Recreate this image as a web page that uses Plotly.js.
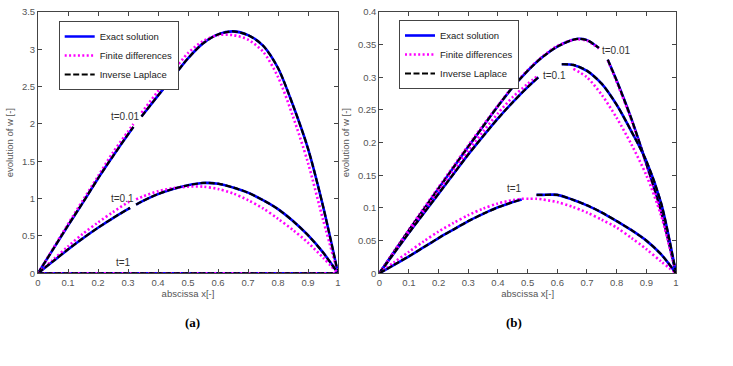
<!DOCTYPE html>
<html>
<head>
<meta charset="utf-8">
<script src="https://cdn.plot.ly/plotly-3.0.1.min.js"></script>
<style>html,body{margin:0;padding:0;background:#fff;}#chart{width:733px;height:366px;}</style>
</head>
<body>
<div id="chart"></div>
<script>
// ---------- Panel (a) data ----------
const xA001 = [0,0.05,0.1,0.15,0.2,0.25,0.3,0.318,0.33,0.345,0.4,0.45,0.5,0.55,0.6,0.65,0.7,0.75,0.8,0.85,0.9,0.95,1];
const exA001 = [0,0.32,0.64,0.95,1.27,1.57,1.86,1.96,null,2.10,2.38,2.63,2.88,3.08,3.20,3.24,3.19,3.05,2.75,2.25,1.67,0.90,0];
const fdA001 = [0,0.33,0.66,0.98,1.30,1.62,1.90,2.00,null,2.15,2.44,2.70,2.95,3.11,3.19,3.19,3.13,2.97,2.63,2.10,1.48,0.72,0];
const ilA001 = [0,0.32,0.64,0.95,1.27,1.57,1.86,1.96,null,2.10,2.38,2.63,2.88,3.08,3.20,3.24,3.19,3.05,2.75,2.25,1.67,0.90,0];

const xA01 = [0,0.05,0.1,0.15,0.2,0.25,0.3,0.307,0.317,0.327,0.35,0.4,0.45,0.5,0.55,0.6,0.65,0.7,0.75,0.8,0.85,0.9,0.95,1];
const exA01 = [0,0.16,0.32,0.47,0.61,0.74,0.86,0.875,null,0.92,0.97,1.06,1.13,1.18,1.21,1.20,1.15,1.08,0.98,0.86,0.70,0.51,0.28,0];
const fdA01 = [0,0.18,0.36,0.53,0.68,0.82,0.95,0.96,null,0.99,1.03,1.10,1.14,1.16,1.16,1.13,1.07,0.98,0.87,0.73,0.58,0.41,0.21,0];
const ilA01 = [0,0.16,0.32,0.47,0.61,0.74,0.86,0.875,null,0.92,0.97,1.06,1.13,1.18,1.21,1.20,1.15,1.08,0.98,0.86,0.70,0.51,0.28,0];

const xA1 = [0,0.1,0.2,0.3,0.4,0.5,0.6,0.7,0.8,0.9,1];
const exA1 = [0,0,0,0,0,0,0,0,0,0,0];
const fdA1 = [0,0,0,0,0,0,0,0,0,0,0];
const ilA1 = [0,0,0,0,0,0,0,0,0,0,0];

// ---------- Panel (b) data ----------
const xB001 = [0,0.05,0.1,0.15,0.2,0.25,0.3,0.35,0.4,0.45,0.5,0.55,0.6,0.65,0.67,0.7,0.74,0.755,0.77,0.8,0.85,0.9,0.95,1];
const exB001 = [0,0.033,0.066,0.098,0.130,0.162,0.194,0.225,0.256,0.285,0.310,0.331,0.347,0.357,0.359,0.357,0.345,null,0.327,0.295,0.236,0.168,0.095,0];
const fdB001 = [0,0.034,0.067,0.100,0.132,0.164,0.196,0.227,0.257,0.286,0.311,0.332,0.348,0.357,0.358,0.356,0.344,null,0.326,0.293,0.234,0.166,0.093,0];
const ilB001 = [0,0.033,0.066,0.098,0.130,0.162,0.194,0.225,0.256,0.285,0.310,0.331,0.347,0.357,0.359,0.357,0.345,null,0.327,0.295,0.236,0.168,0.095,0];

const xB01 = [0,0.05,0.1,0.15,0.2,0.25,0.3,0.35,0.4,0.45,0.5,0.536,0.58,0.615,0.654,0.7,0.75,0.8,0.85,0.9,0.95,1];
const exB01 = [0,0.031,0.062,0.092,0.122,0.152,0.182,0.210,0.237,0.262,0.285,0.300,null,0.320,0.319,0.310,0.290,0.258,0.217,0.172,0.107,0];
const fdB01 = [0,0.032,0.064,0.095,0.126,0.157,0.188,0.217,0.245,0.270,0.290,0.303,null,null,0.313,0.300,0.273,0.238,0.197,0.150,0.088,0];
const ilB01 = [0,0.031,0.062,0.092,0.122,0.152,0.182,0.210,0.237,0.262,0.285,0.300,null,0.320,0.319,0.310,0.290,0.258,0.217,0.172,0.107,0];

const xB1 = [0,0.05,0.1,0.15,0.2,0.25,0.3,0.35,0.4,0.45,0.48,0.505,0.53,0.55,0.6,0.65,0.7,0.75,0.8,0.85,0.9,0.95,1];
const exB1 = [0,0.013,0.026,0.040,0.054,0.067,0.080,0.091,0.101,0.109,0.113,null,0.120,0.120,0.120,0.113,0.104,0.093,0.080,0.066,0.050,0.029,0];
const fdB1 = [0,0.017,0.033,0.049,0.064,0.077,0.089,0.099,0.107,0.112,0.114,0.114,0.114,0.113,0.109,0.102,0.093,0.082,0.070,0.054,0.037,0.018,0];
const ilB1 = [0,0.013,0.026,0.040,0.054,0.067,0.080,0.091,0.101,0.109,0.113,null,0.120,0.120,0.120,0.113,0.104,0.093,0.080,0.066,0.050,0.029,0];

const seriesNames = ['Exact solution', 'Finite differences', 'Inverse Laplace'];
const curveLabelsA = [{t:'t=0.01', x:0.293, y:2.10}, {t:'t=0.1', x:0.282, y:1.0}, {t:'t=1', x:0.284, y:0.15}];
const curveLabelsB = [{t:'t=0.01', x:0.80, y:0.341}, {t:'t=0.1', x:0.592, y:0.303}, {t:'t=1', x:0.457, y:0.130}];

// ---------- Build traces ----------
const styles = [
  {color:'#0000ff', width:2.6, dash:'solid'},
  {color:'#ff00ff', width:2.6, dash:'2px,2.4px'},
  {color:'#000000', width:2.2, dash:'6px,2.5px'}
];
const traces = [];
function addGroup(x, ys, xa, ya, legendId, showLeg) {
  ys.forEach((y, i) => {
    traces.push({
      x: x, y: y, type:'scatter', mode:'lines', name: seriesNames[i],
      xaxis: xa, yaxis: ya, legend: legendId, showlegend: showLeg,
      connectgaps: false, hoverinfo:'skip',
      line: {color: styles[i].color, width: styles[i].width, dash: styles[i].dash, shape:'spline', smoothing:0.8}
    });
  });
}
addGroup(xA001, [exA001, fdA001, ilA001], 'x', 'y', 'legend', true);
addGroup(xA01, [exA01, fdA01, ilA01], 'x', 'y', 'legend', false);
addGroup(xA1, [exA1, fdA1, ilA1], 'x', 'y', 'legend', false);
addGroup(xB001, [exB001, fdB001, ilB001], 'x2', 'y2', 'legend2', true);
addGroup(xB01, [exB01, fdB01, ilB01], 'x2', 'y2', 'legend2', false);
addGroup(xB1, [exB1, fdB1, ilB1], 'x2', 'y2', 'legend2', false);

const sans = 'Liberation Sans, Arial, sans-serif';
const tickFont = {family: sans, size:9.5, color:'#555'};
const titleFont = {family: sans, size:9.5, color:'#555'};
function xAxis(domain, anchor) {
  return {domain: domain, anchor: anchor, range:[0,1], dtick:0.1, tick0:0, automargin:false,
    ticks:'inside', ticklen:4, tickcolor:'#444', showline:true, linecolor:'#444', linewidth:1,
    mirror:'ticks', showgrid:false, zeroline:false, tickfont: tickFont,
    title:{text:'abscissa x[-]', font:titleFont, standoff:3}};
}
function yAxis(domain, anchor, range, dtick) {
  return {domain: domain, anchor: anchor, range: range, dtick: dtick, tick0:0, automargin:false,
    ticks:'inside', ticklen:4, tickcolor:'#444', showline:true, linecolor:'#444', linewidth:1,
    mirror:'ticks', showgrid:false, zeroline:false, tickfont: tickFont,
    title:{text:'evolution of w [-]', font:titleFont, standoff:6}};
}
const yDom = [0.2533, 0.9672];
const labelFont = {family: sans, size:10, color:'#333'};
const annotations = [];
curveLabelsA.forEach(l => annotations.push({x:l.x, y:l.y, xref:'x', yref:'y', text:l.t, showarrow:false, font:labelFont}));
curveLabelsB.forEach(l => annotations.push({x:l.x, y:l.y, xref:'x2', yref:'y2', text:l.t, showarrow:false, font:labelFont}));
const panelFont = {family:'Liberation Serif, Times New Roman, serif', size:13, color:'#000'};
annotations.push({x:183/733, y:1-322/366, xref:'paper', yref:'paper', yanchor:'middle', text:'<b>(a)</b>', showarrow:false, font:panelFont});
annotations.push({x:524/733, y:1-322/366, xref:'paper', yref:'paper', yanchor:'middle', text:'<b>(b)</b>', showarrow:false, font:panelFont});

const legendBase = {font:{family: sans, size:9.5, color:'#222'},
  bordercolor:'#444', borderwidth:1, bgcolor:'#fff', yanchor:'top', xanchor:'left', tracegroupgap:0};

const layout = {
  width:733, height:366, margin:{l:0, r:0, t:0, b:0, autoexpand:false},
  paper_bgcolor:'#fff', plot_bgcolor:'#fff',
  xaxis: xAxis([38/733, 338/733], 'y'),
  yaxis: yAxis(yDom, 'x', [0,3.5], 0.5),
  xaxis2: xAxis([379.3/733, 676/733], 'y2'),
  yaxis2: yAxis(yDom, 'x2', [0,0.4], 0.05),
  legend: Object.assign({x:58.7/733, y:1-21/366}, legendBase),
  legend2: Object.assign({x:399/733, y:1-20/366}, legendBase),
  annotations: annotations,
  showlegend: true
};
Plotly.newPlot('chart', traces, layout, {displayModeBar:false, staticPlot:true});
</script>
</body>
</html>
